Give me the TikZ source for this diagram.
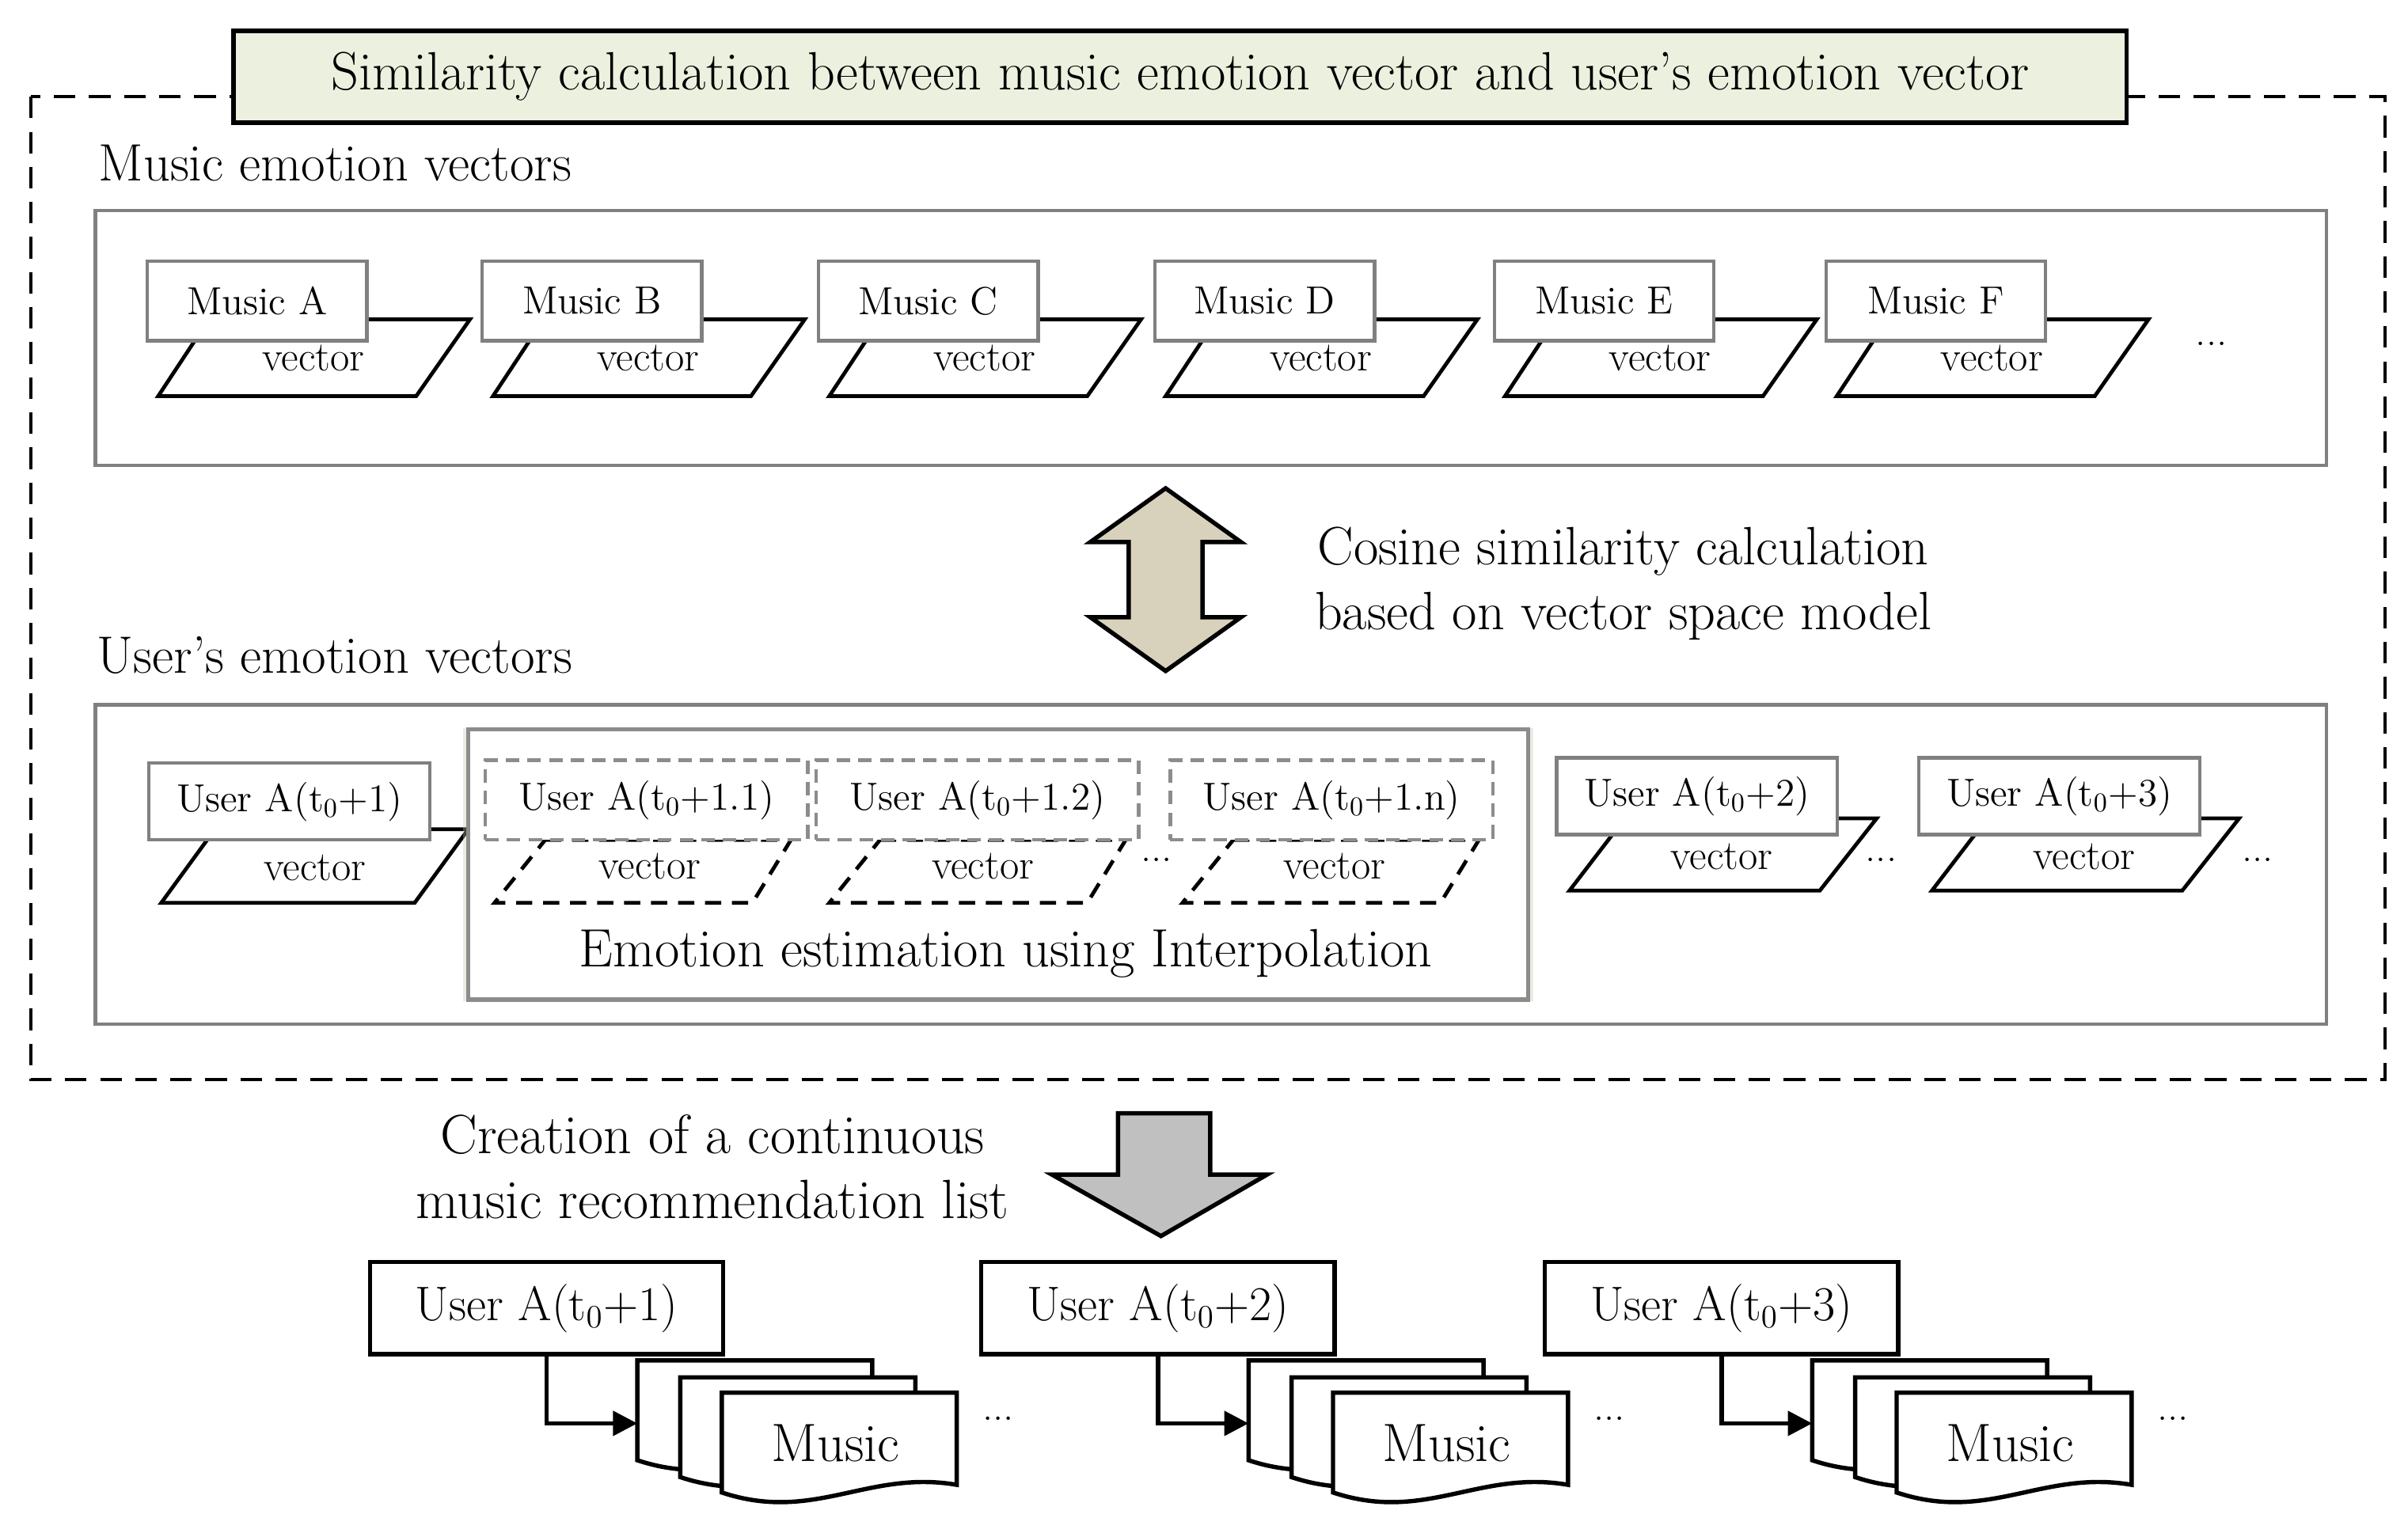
\documentclass[tikz,border=0pt]{standalone}
\usetikzlibrary{arrows.meta,shadows}
\begin{document}
\begin{tikzpicture}[x=0.02cm,y=-0.02cm,
  gbox/.style={draw=black!50,line width=1.3pt,fill=white},
  mbox/.style={gbox,minimum width=2.86cm,minimum height=1.04cm,inner sep=0pt,font=\fontsize{14.5}{16}\selectfont},
  ubox/.style={gbox,minimum width=3.66cm,minimum height=1.0cm,inner sep=0pt,font=\fontsize{14.5}{16}\selectfont},
  dbox/.style={draw=black!45,dash pattern=on 5pt off 3pt,line width=1.3pt,fill=white,minimum width=4.2cm,minimum height=1.04cm,inner sep=0pt,font=\fontsize{14.5}{16}\selectfont},
  para/.style={draw=black,line width=1.4pt,fill=white},
  vlab/.style={font=\fontsize{15.5}{17}\selectfont},
  bbox/.style={draw=black,line width=1.6pt,fill=white,minimum width=4.6cm,minimum height=1.2cm,inner sep=0pt,font=\fontsize{18}{20}\selectfont},
  big/.style={font=\fontsize{20}{24}\selectfont},
  sec/.style={font=\fontsize{19.5}{22}\selectfont},
  doc/.style={draw=black,line width=1.6pt,fill=white}]
\useasboundingbox (0,0) rectangle (1568,1001);
% outer dashed frame
\draw[dash pattern=on 8pt off 5pt,line width=1.3pt] (20,63) rectangle (1553,703);
\node[draw=black,line width=1.6pt,fill={rgb,255:red,236;green,240;blue,222},minimum width=24.66cm,minimum height=1.2cm,inner sep=0pt,font=\fontsize{20}{22}\selectfont] (title) at (768.5,50) {Similarity calculation between music emotion vector and user's emotion vector};
% music section
\node[sec,anchor=west] (mtitle) at (58,106) {Music emotion vectors};
\draw[draw=black!50,line width=1.3pt] (62,137) rectangle (1515,303);
\foreach \x/\l in {96/A,314/B,533/C,752/D,973/E,1189/F}{
  \draw[para] (\x+40,208) -- (\x+210,208) -- (\x+175,258) -- (\x+7,258) -- cycle;
  \node[vlab] (mv\l) at (\x+108,233) {vector};
  \node[mbox] (m\l) at (\x+71.5,196) {Music \l};
}
\node[vlab] (mdots) at (1440,224) {...};
% double arrow
\draw[line width=1.6pt,fill={rgb,255:red,216;green,210;blue,188}] (759,318) -- (808,353) -- (783,353) -- (783,402) -- (808,402) -- (759,437) -- (710,402) -- (735,402) -- (735,353) -- (710,353) -- cycle;
\node[big,align=center] (cos) at (1057,380) {Cosine similarity calculation\\based on vector space model};
% user section
\node[sec,anchor=west] (utitle) at (57,427) {User's emotion vectors};
\draw[draw=black!50,line width=1.3pt] (62,459) rectangle (1515,667);
\draw[para] (140,540) -- (305,540) -- (270,588) -- (105,588) -- cycle;
\node[vlab] (uv1) at (205,565) {vector};
\node[ubox] (u1) at (188.5,522) {User A(t$_0$+1)};
% interpolation box
\node[draw=black!45,line width=1.5pt,fill=white,minimum width=13.8cm,minimum height=3.52cm,inner sep=0pt,
  drop shadow={shadow xshift=0pt,shadow yshift=0pt,opacity=0.35,fill={rgb,255:red,200;green,195;blue,170},shadow scale=1.01}] (interp) at (650,563) {};
\node[big] (itext) at (655,621) {Emotion estimation using Interpolation};
\foreach \x/\tx/\n in {322/423/a,540/640/b,770/869/c}{
  \draw[para,dash pattern=on 6pt off 4pt] (\x+33,547) -- (\x+193,547) -- (\x+168,588) -- (\x,588) -- cycle;
  \node[vlab] (iv\n) at (\tx,564) {vector};
}
\node[dbox] (i1) at (421,521) {User A(t$_0$+1.1)};
\node[dbox] (i2) at (636.5,521) {User A(t$_0$+1.2)};
\node[dbox] (i3) at (867,521) {User A(t$_0$+1.n)};
\node[vlab] (idots) at (753,560) {...};
\foreach \x/\k in {1013/2,1249/3}{
  \draw[para] (\x+45,533) -- (\x+209,533) -- (\x+172,580) -- (\x+9,580) -- cycle;
  \node[vlab] (uv\k) at (\x+108,558) {vector};
  \node[ubox] (u\k) at (\x+92,518.5) {User A(t$_0$+\k)};
}
\node[vlab] (ud2) at (1225,560) {...};
\node[vlab] (ud3) at (1470,560) {...};
% down arrow
\draw[line width=1.6pt,fill={rgb,255:red,192;green,192;blue,192}] (728,725) -- (788,725) -- (788,765) -- (825,765) -- (756,805) -- (685,765) -- (728,765) -- cycle;
\node[font=\fontsize{20.5}{24}\selectfont,align=center] (create) at (464,760) {Creation of a continuous\\music recommendation list};
% bottom
\foreach \bx/\k in {241/1,639/2,1006/3}{
  \node[bbox] (b\k) at (\bx+115,852) {User A(t$_0$+\k)};
  \foreach \dx/\dy in {174/886,202/897,229/907}{
    \draw[doc] (\bx+\dx,\dy) -- (\bx+\dx+153,\dy) -- (\bx+\dx+153,\dy+60) .. controls (\bx+\dx+95,\dy+50) and (\bx+\dx+60,\dy+85) .. (\bx+\dx,\dy+65) -- cycle;
  }
  \node[font=\fontsize{20}{22}\selectfont] (mu\k) at (\bx+303,940) {Music};
  \coordinate (c\k) at (\bx+115,927);
  \coordinate (e\k) at (\bx+174,927);
  \draw[line width=1.6pt,-{Triangle[length=9pt,width=9pt]}] (b\k.south) -- (c\k) -- (e\k);
  \node[vlab] (bd\k) at (\bx+409,924) {...};
}
\end{tikzpicture}
\end{document}
